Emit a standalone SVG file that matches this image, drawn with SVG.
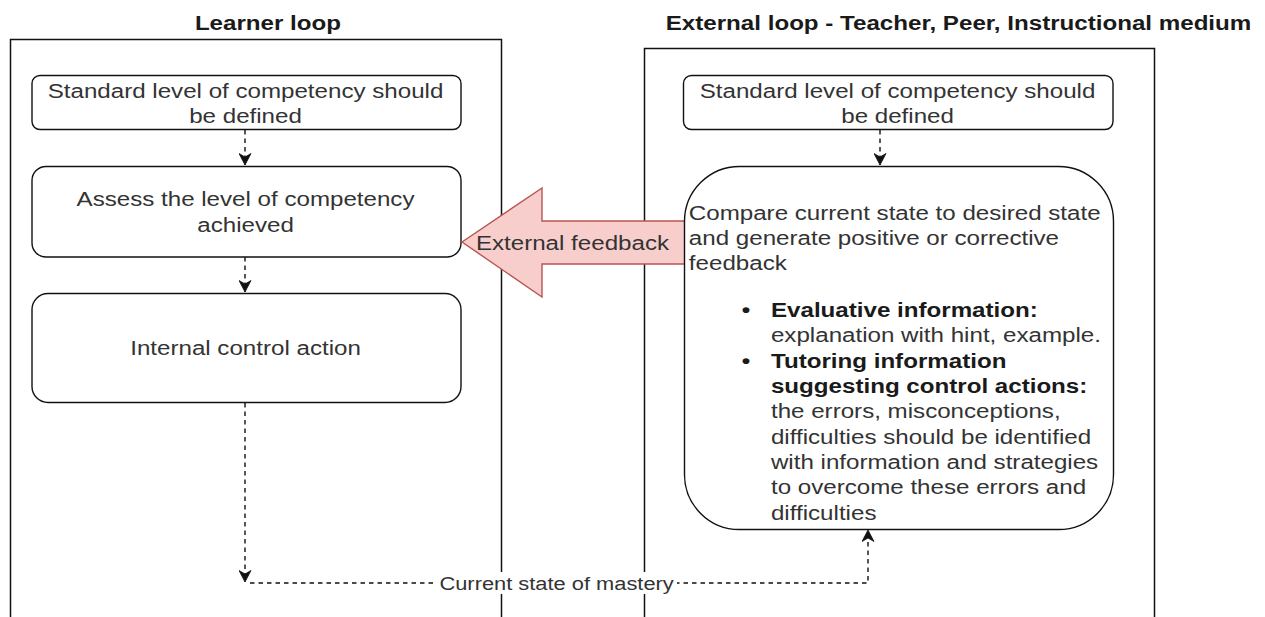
<svg xmlns="http://www.w3.org/2000/svg" width="1265" height="617" viewBox="0 0 1265 617">
  <defs>
    <style>
      .lane { fill: none; stroke: #111; stroke-width: 1.5; }
      .box { fill: #fff; stroke: #111; stroke-width: 1.4; }
      .t { font-family: "Liberation Sans", Arial, sans-serif; font-size: 21px; fill: #333; }
      .title { font-weight: bold; fill: #1a1a1a; }
      .mid { text-anchor: middle; }
      .b { font-weight: bold; fill: #1a1a1a; }
      .edge { fill: none; stroke: #111; stroke-width: 1.4; stroke-dasharray: 4.5 4; }
      .lbl { font-family: "Liberation Sans", Arial, sans-serif; font-size: 19px; fill: #333; text-anchor: middle; }
    </style>
    <marker id="arrow" viewBox="0 0 13 13" refX="12" refY="6.5" markerWidth="13" markerHeight="13" markerUnits="userSpaceOnUse" orient="auto">
      <path d="M0.5,0.5 L12,6.5 L0.5,12.5 L4,6.5 Z" fill="#111" stroke="#111" stroke-width="0.8" stroke-linejoin="round"/>
    </marker>
  </defs>

  <rect width="1265" height="617" fill="#fff"/>

  <!-- swimlane containers -->
  <g id="learner-loop">
    <rect class="lane" x="10.5" y="39.5" width="491" height="640"/>
    <text class="t title mid" transform="scale(1.15 1)" x="233" y="30">Learner loop</text>
  </g>
  <g id="external-loop">
    <rect class="lane" x="644.5" y="48.5" width="510" height="640"/>
    <text class="t title mid" transform="scale(1.15 1)" x="833.5" y="30">External loop - Teacher, Peer, Instructional medium</text>
  </g>

  <!-- learner loop nodes -->
  <g id="learner-standard">
    <rect class="box" x="32" y="75.5" width="429" height="54" rx="8"/>
    <text class="t mid" transform="scale(1.15 1)" x="213.5" y="98">Standard level of competency should</text>
    <text class="t mid" transform="scale(1.15 1)" x="213.5" y="123.5">be defined</text>
  </g>
  <g id="learner-assess">
    <rect class="box" x="32" y="166.5" width="429" height="90.5" rx="14"/>
    <text class="t mid" transform="scale(1.15 1)" x="213.5" y="206">Assess the level of competency</text>
    <text class="t mid" transform="scale(1.15 1)" x="213.5" y="232">achieved</text>
  </g>
  <g id="learner-control">
    <rect class="box" x="32" y="293.5" width="429" height="109" rx="16"/>
    <text class="t mid" transform="scale(1.15 1)" x="213.5" y="355">Internal control action</text>
  </g>

  <!-- external feedback block arrow -->
  <g id="external-feedback">
    <polygon points="462,242 542,188 542,221 685,221 685,264 542,264 542,297" fill="#f8cecc" stroke="#b85450" stroke-width="1.4" stroke-linejoin="miter"/>
    <text class="t mid" transform="scale(1.15 1)" x="497.8" y="250">External feedback</text>
  </g>

  <!-- external loop nodes -->
  <g id="external-standard">
    <rect class="box" x="683.5" y="75.5" width="429.5" height="54" rx="8"/>
    <text class="t mid" transform="scale(1.15 1)" x="780.5" y="98">Standard level of competency should</text>
    <text class="t mid" transform="scale(1.15 1)" x="780.5" y="123.5">be defined</text>
  </g>
  <g id="external-compare">
    <rect class="box" x="684.5" y="166.5" width="429" height="363" rx="55"/>
    <g class="t" transform="scale(1.15 1)">
      <text x="599" y="220">Compare current state to desired state</text>
      <text x="599" y="245">and generate positive or corrective</text>
      <text x="599" y="270">feedback</text>
      <text x="648.7" y="317" text-anchor="middle" class="b">•</text>
      <text x="670.4" y="317" class="b">Evaluative information:</text>
      <text x="670.4" y="342">explanation with hint, example.</text>
      <text x="648.7" y="368" text-anchor="middle" class="b">•</text>
      <text x="670.4" y="368" class="b">Tutoring information</text>
      <text x="670.4" y="393" class="b">suggesting control actions:</text>
      <text x="670.4" y="418">the errors, misconceptions,</text>
      <text x="670.4" y="444">difficulties should be identified</text>
      <text x="670.4" y="469">with information and strategies</text>
      <text x="670.4" y="494">to overcome these errors and</text>
      <text x="670.4" y="520">difficulties</text>
    </g>
  </g>

  <!-- connectors -->
  <g id="connectors">
    <path class="edge" d="M245,130 V165" marker-end="url(#arrow)"/>
    <path class="edge" d="M245,257 V292" marker-end="url(#arrow)"/>
    <path class="edge" d="M880,130 V165" marker-end="url(#arrow)"/>
    <path class="edge" d="M245,403 V582" marker-end="url(#arrow)"/>
    <path class="edge" d="M250,583 H868 V530" marker-end="url(#arrow)"/>
    <rect x="437" y="572" width="240" height="22" fill="#fff"/>
    <text class="lbl" transform="scale(1.15 1)" x="484" y="590">Current state of mastery</text>
  </g>
</svg>
